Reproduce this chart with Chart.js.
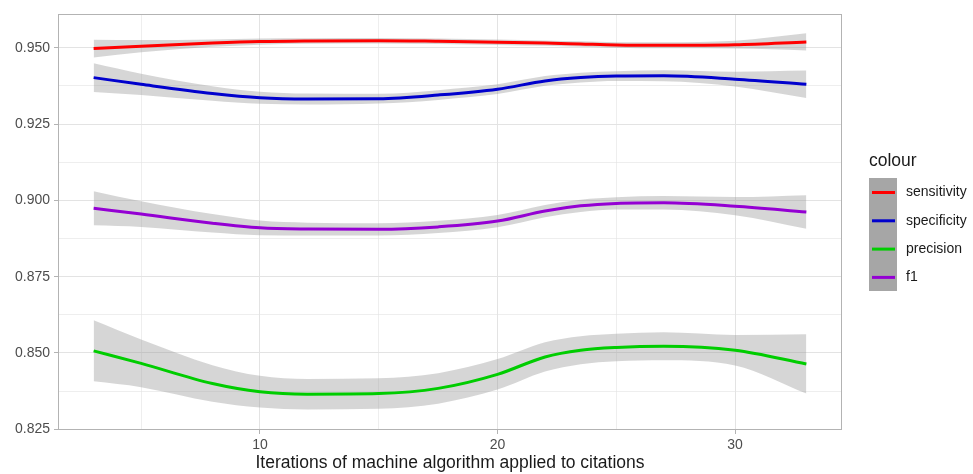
<!DOCTYPE html>
<html>
<head>
<meta charset="utf-8">
<script src="https://cdn.jsdelivr.net/npm/chart.js@4.4.0/dist/chart.umd.min.js"></script>
<style>
  html, body { margin: 0; padding: 0; background: #fff; }
  #wrap { width: 973px; height: 474px; }
</style>
</head>
<body>
<div id="wrap"><canvas id="myChart" width="973" height="474"></canvas></div>
<script>
// iterations (x) where the smooth curves were read
let iters = [3, 5, 8, 10, 12, 15, 17.5, 20, 22, 23.5, 25, 27, 30, 33];

// smoothed metric values
let sensitivity = [0.9497, 0.9505, 0.9515, 0.9520, 0.9522, 0.9523, 0.9521, 0.9518, 0.9515, 0.9512, 0.9509, 0.9508, 0.9510, 0.9519];
let specificity = [0.9402, 0.9380, 0.9350, 0.9336, 0.9332, 0.9333, 0.9345, 0.9364, 0.9391, 0.9402, 0.9407, 0.9408, 0.9397, 0.9380];
let precision   = [0.8507, 0.8466, 0.8400, 0.8373, 0.8365, 0.8367, 0.8384, 0.8430, 0.8487, 0.8509, 0.8518, 0.8522, 0.8509, 0.8464];
let f1          = [0.8974, 0.8955, 0.8925, 0.8910, 0.8906, 0.8905, 0.8913, 0.8932, 0.8965, 0.8982, 0.8990, 0.8992, 0.8981, 0.8962];

// half width of the grey confidence band
let seSensitivity = [0.0029, 0.0020, 0.0012, 0.0010, 0.0009, 0.0009, 0.0009, 0.0009, 0.0009, 0.0009, 0.0009, 0.0010, 0.0013, 0.0028];
let seSpecificity = [0.0047, 0.0035, 0.0024, 0.0020, 0.0018, 0.0016, 0.0016, 0.0016, 0.0016, 0.0016, 0.0016, 0.0018, 0.0024, 0.0045];
let sePrecision   = [0.0100, 0.0078, 0.0060, 0.0052, 0.0050, 0.0050, 0.0050, 0.0050, 0.0048, 0.0046, 0.0045, 0.0046, 0.0050, 0.0097];
let seF1          = [0.0056, 0.0042, 0.0030, 0.0024, 0.0021, 0.0020, 0.0020, 0.0020, 0.0020, 0.0020, 0.0020, 0.0022, 0.0030, 0.0055];

let seriesNames = ['sensitivity', 'specificity', 'precision', 'f1'];
let seriesColors = ['#ff0000', '#0000cd', '#00cd00', '#9400d3'];

// axis ticks (major + minor grid)
let xTicks = [5, 10, 15, 20, 25, 30];
let xLabels = ['', '10', '', '20', '', '30'];
let yTicks = [0.825, 0.8375, 0.85, 0.8625, 0.875, 0.8875, 0.9, 0.9125, 0.925, 0.9375, 0.95];
let yLabels = ['0.825', '', '0.850', '', '0.875', '', '0.900', '', '0.925', '', '0.950'];

let values = [sensitivity, specificity, precision, f1];
let ses = [seSensitivity, seSpecificity, sePrecision, seF1];

function pts(arr, se, sign) {
  return iters.map((x, i) => ({ x: x, y: arr[i] + sign * (se ? se[i] : 0) }));
}

let datasets = [];
// bands first
values.forEach((v, k) => {
  let up = datasets.length;
  datasets.push({
    data: pts(v, ses[k], 1), borderWidth: 0, pointRadius: 0, cubicInterpolationMode: 'monotone',
    fill: { target: up + 1 }, backgroundColor: 'rgba(153,153,153,0.4)', order: 10
  });
  datasets.push({
    data: pts(v, ses[k], -1), borderWidth: 0, pointRadius: 0, cubicInterpolationMode: 'monotone',
    fill: false, order: 10
  });
});
values.forEach((v, k) => {
  datasets.push({
    label: seriesNames[k], data: pts(v, null, 0), borderColor: seriesColors[k],
    borderWidth: 3, pointRadius: 0, cubicInterpolationMode: 'monotone', fill: false, order: 0
  });
});

const panelBorder = {
  id: 'panelBorder',
  afterDatasetsDraw(chart) {
    let a = chart.chartArea, c = chart.ctx;
    c.save();
    c.strokeStyle = '#b3b3b3';
    c.lineWidth = 1;
    c.strokeRect(a.left + 0.5, a.top + 0.5, a.right - a.left - 1, a.bottom - a.top - 1);
    c.restore();
  },
  afterDraw(chart) {
    // ggplot style legend
    let c = chart.ctx;
    c.save();
    c.fillStyle = '#1a1a1a';
    c.font = '17.5px "Liberation Sans", Arial, sans-serif';
    c.textBaseline = 'middle';
    c.fillText('colour', 869, 161);
    c.fillStyle = '#a6a6a6';
    c.fillRect(869, 178, 28, 113);
    c.font = '14px "Liberation Sans", Arial, sans-serif';
    seriesNames.forEach((n, i) => {
      let y = 192.5 + i * 28.3;
      c.strokeStyle = seriesColors[i];
      c.lineWidth = 3;
      c.beginPath();
      c.moveTo(872, y);
      c.lineTo(895, y);
      c.stroke();
      c.fillStyle = '#1a1a1a';
      c.fillText(n, 906, y);
    });
    c.restore();
  }
};

let ctx = document.getElementById('myChart').getContext('2d');
let myChart = new Chart(ctx, {
  type: 'line',
  data: { datasets: datasets },
  options: {
    responsive: false,
    animation: false,
    layout: { padding: { left: 0, top: 14, right: 131, bottom: 0 } },
    plugins: { legend: { display: false }, tooltip: { enabled: false } },
    scales: {
      x: {
        type: 'linear', min: 1.5, max: 34.5,
        afterBuildTicks: (s) => { s.ticks = xTicks.map(v => ({ value: v })); },
        afterFit: (s) => { s.height = 44; },
        ticks: {
          color: '#4d4d4d', padding: 3, maxRotation: 0, autoSkip: false,
          font: { family: '"Liberation Sans", Arial, sans-serif', size: 14 },
          callback: (v, i) => xLabels[i]
        },
        grid: {
          color: '#e3e3e3',
          lineWidth: (c) => (xLabels[c.index] ? 1 : 0.6),
          tickLength: 4,
          tickColor: (c) => (xLabels[c.index] ? '#b3b3b3' : 'rgba(0,0,0,0)')
        },
        border: { display: false },
        title: {
          display: true, text: 'Iterations of machine algorithm applied to citations',
          color: '#1a1a1a', padding: { top: 0, bottom: 0 },
          font: { family: '"Liberation Sans", Arial, sans-serif', size: 17.5 }
        }
      },
      y: {
        type: 'linear', min: 0.82477, max: 0.96104,
        afterBuildTicks: (s) => { s.ticks = yTicks.map(v => ({ value: v })); },
        afterFit: (s) => { s.width = 58; },
        ticks: {
          color: '#4d4d4d', padding: 4, autoSkip: false,
          font: { family: '"Liberation Sans", Arial, sans-serif', size: 14 },
          callback: (v, i) => yLabels[i]
        },
        grid: {
          color: '#e3e3e3',
          lineWidth: (c) => (yLabels[c.index] ? 1 : 0.6),
          tickLength: 4,
          tickColor: (c) => (yLabels[c.index] ? '#b3b3b3' : 'rgba(0,0,0,0)')
        },
        border: { display: false }
      }
    }
  },
  plugins: [panelBorder]
});
</script>
</body>
</html>
